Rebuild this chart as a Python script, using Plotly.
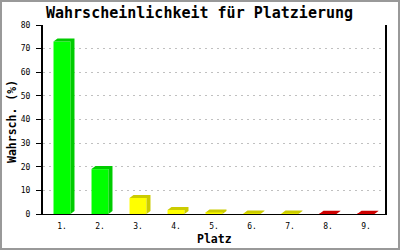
import plotly.graph_objects as go

# ---- data ----
places = ["1.", "2.", "3.", "4.", "5.", "6.", "7.", "8.", "9."]
probs = [73, 19, 6.8, 1.7, 0.6, 0.2, 0.2, 0.1, 0.1]
front_colors = ["#00FF00", "#00FF00", "#FFFF00", "#FFFF00", "#FFFF00",
                "#FFFF00", "#FFFF00", "#FF0000", "#FF0000"]
shadow_colors = ["#00CC00", "#00CC00", "#CCCC00", "#CCCC00", "#CCCC00",
                 "#CCCC00", "#CCCC00", "#CC0000", "#CC0000"]
y_ticks = [0, 10, 20, 30, 40, 50, 60, 70, 80]

# ---- layout geometry ----
W, H = 400, 250
ML, MR, MT, MB = 43, 15, 25, 36
PW, PH = W - ML - MR, H - MT - MB
BAR_W = 0.447
DX = 4 / (PW / len(places))      # shadow offset, x data units
DY = 3 / (PH / 80)               # shadow offset, y data units

xs = list(range(1, len(places) + 1))

fig = go.Figure()

fig.add_trace(go.Bar(
    x=xs, y=probs, width=BAR_W,
    marker=dict(color=front_colors, line=dict(width=0)),
    hoverinfo="skip", showlegend=False,
))

for xi, v, sc in zip(xs, probs, shadow_colors):
    x0, x1 = xi - BAR_W / 2, xi + BAR_W / 2
    px = [x0, x0 + DX, x1 + DX, x1 + DX, x1, x1, x0]
    py = [v, v + DY, v + DY, DY, 0, v, v]
    fig.add_trace(go.Scatter(
        x=px, y=py, mode="lines", fill="toself",
        fillcolor=sc, line=dict(width=0, color=sc),
        hoverinfo="skip", showlegend=False,
    ))

def pxx(p):
    return (p - ML) / PW

def pxy(p):
    return (H - MB - p) / PH

mono = "DejaVu Sans Mono"

fig.update_layout(
    width=W, height=H,
    margin=dict(l=ML, r=MR, t=MT, b=MB, pad=0),
    paper_bgcolor="white", plot_bgcolor="white",
    showlegend=False,
    xaxis=dict(
        range=[0.5, len(places) + 0.5],
        tickvals=xs, ticktext=places,
        showgrid=False, zeroline=False,
        showline=True, linecolor="black", linewidth=1,
        ticks="", ticklabelstandoff=4,
        tickfont=dict(family=mono, size=8, color="black"),
        fixedrange=True,
    ),
    yaxis=dict(
        range=[0, 80],
        tickvals=y_ticks,
        showgrid=True, gridcolor="#c0c0c0", griddash="2px,4px", gridwidth=1,
        zeroline=False,
        showline=True, linecolor="black", linewidth=2, mirror=True,
        ticks="outside", ticklen=5, tickcolor="black", tickwidth=1,
        ticklabelstandoff=4,
        tickfont=dict(family=mono, size=8, color="black"),
        fixedrange=True,
    ),
    annotations=[
        dict(text="<b>Wahrscheinlichkeit für Platzierung</b>",
             xref="paper", yref="paper", x=pxx(199.5), y=pxy(12.5),
             xanchor="center", yanchor="middle", showarrow=False,
             font=dict(family=mono, size=15, color="black")),
        dict(text="<b>Wahrsch. (%)</b>",
             xref="paper", yref="paper", x=pxx(11.5), y=pxy(121.5),
             xanchor="center", yanchor="middle", showarrow=False, textangle=-90,
             font=dict(family=mono, size=11.5, color="black")),
        dict(text="<b>Platz</b>",
             xref="paper", yref="paper", x=pxx(214), y=pxy(239),
             xanchor="center", yanchor="middle", showarrow=False,
             font=dict(family=mono, size=11.5, color="black")),
    ],
    shapes=[
        dict(type="rect", xref="paper", yref="paper",
             x0=pxx(1), x1=pxx(W - 1), y0=pxy(H - 1), y1=pxy(1),
             line=dict(color="#999999", width=2), fillcolor="rgba(0,0,0,0)",
             layer="above"),
    ],
)

fig.write_html("out.html", config={"displayModeBar": False})
